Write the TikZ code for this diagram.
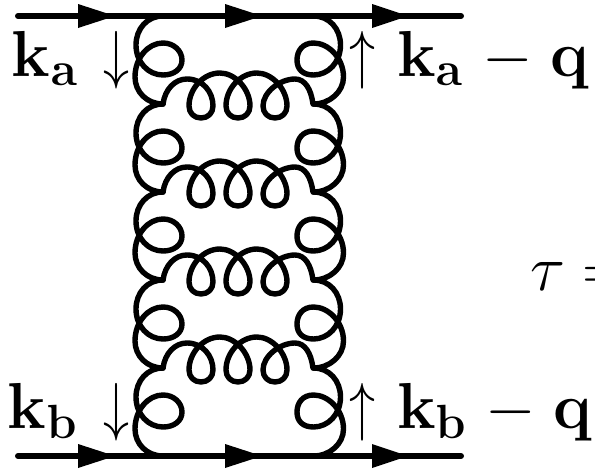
\RequirePackage{fix-cm}
\documentclass[tikz,border=0pt]{standalone}
\DeclareMathSizes{65}{65}{48}{33}
\tikzset{
  gluon/.style={line width=5.4pt,line cap=round,line join=round},
  fermion/.style={line width=6pt,line cap=round},
  fhead/.style={fill=black,draw=none},
  lbl/.style={inner sep=0pt,outer sep=0pt,anchor=base west,font=\fontsize{65}{70}\selectfont},
  vertarrow/.style={inner sep=0pt,outer sep=0pt,anchor=base,font=\fontsize{65}{70}\selectfont}
}
% #1 = innermost x of the curl, #2 = outermost x of the lower bulge
\newcommand{\vgluon}[2]{%
  (163,0) .. controls (147,0) and (136,13) .. (136,29)
  .. controls (136,46) and (148,59) .. (163,59)
  .. controls (174,59) and (#1,53) .. (#1,44)
  .. controls (#1,35) and (174,27) .. (163,27)
  .. controls (148,27) and (#2,42) .. (#2,61)
  .. controls (#2,76) and (147,88) .. (163,88)}
\newcommand{\hgluon}{%
  (163,0) .. controls (165,-15) and (175,-25) .. (187,-25)
  .. controls (203,-25) and (213,-12) .. (213,2)
  .. controls (213,9) and (208,14) .. (201,14)
  .. controls (194,14) and (189,9) .. (189,2)
  .. controls (189,-15) and (203,-31) .. (220,-31)
  .. controls (235,-31) and (250,-15) .. (250,2)
  .. controls (250,9) and (245,14) .. (238,14)
  .. controls (231,14) and (226,9) .. (226,2)
  .. controls (226,-15) and (240,-31) .. (257,-31)
  .. controls (272,-31) and (287,-15) .. (287,2)
  .. controls (287,9) and (282,14) .. (275,14)
  .. controls (268,14) and (263,9) .. (263,2)
  .. controls (263,-12) and (280,-25) .. (295,-25)
  .. controls (305,-25) and (311,-15) .. (313,0)}
\newcommand{\downarr}{\scalebox{0.8}[1]{$\downarrow$}}
\newcommand{\uparr}{\scalebox{0.8}[1]{$\uparrow$}}
\begin{document}
\begin{tikzpicture}[x=1pt,y=-1pt]
\useasboundingbox (0,0) rectangle (595,471);
% fermion end points
\coordinate (TL) at (18,16);
\coordinate (TR) at (461,16);
\coordinate (BL) at (18,456);
\coordinate (BR) at (461,456);
\draw[fermion] (TL) -- (TR);
\draw[fermion] (BL) -- (BR);
\foreach \yy in {16,456}
  \foreach \xx/\tip in {78/115,225/262,372/408}
    \fill[fhead] (\xx,\yy-12) -- (\tip,\yy) -- (\xx,\yy+12) -- cycle;
% gluons
\foreach \yy in {16,104,192,280,368}{
  \begin{scope}[shift={(0,\yy)}]
    \draw[gluon] \vgluon{182}{135};
  \end{scope}
  \begin{scope}[xscale=-1,shift={(-476.5,\yy)}]
    \draw[gluon] \vgluon{179.5}{133};
  \end{scope}
}
\foreach \yy in {104,192,280,368}{
  \begin{scope}[shift={(0,\yy)}]
    \draw[gluon] \hgluon;
  \end{scope}
}
% labels
\node[lbl] (ka) at (12,76) {$\mathbf{k_a}$};
\node[vertarrow] (da1) at (116,76) {\downarr};
\node[vertarrow] (ua1) at (362,76) {\uparr};
\node[lbl] (kaq) at (397,76) {$\mathbf{k_a}\mkern1.5mu-\mkern0.8mu\mathbf{q}$};
\node[lbl] (kb) at (8,428) {$\mathbf{k_b}$};
\node[vertarrow] (da2) at (116,428) {\downarr};
\node[vertarrow] (ua2) at (362,428) {\uparr};
\node[lbl] (kbq) at (397,428) {$\mathbf{k_b}\mkern1.5mu-\mkern0.8mu\mathbf{q}$};
\begin{scope}
  \clip (0,0) rectangle (595,471);
  \node[lbl] (tau) at (530,290) {$\tau =$};
\end{scope}
\end{tikzpicture}
\end{document}
